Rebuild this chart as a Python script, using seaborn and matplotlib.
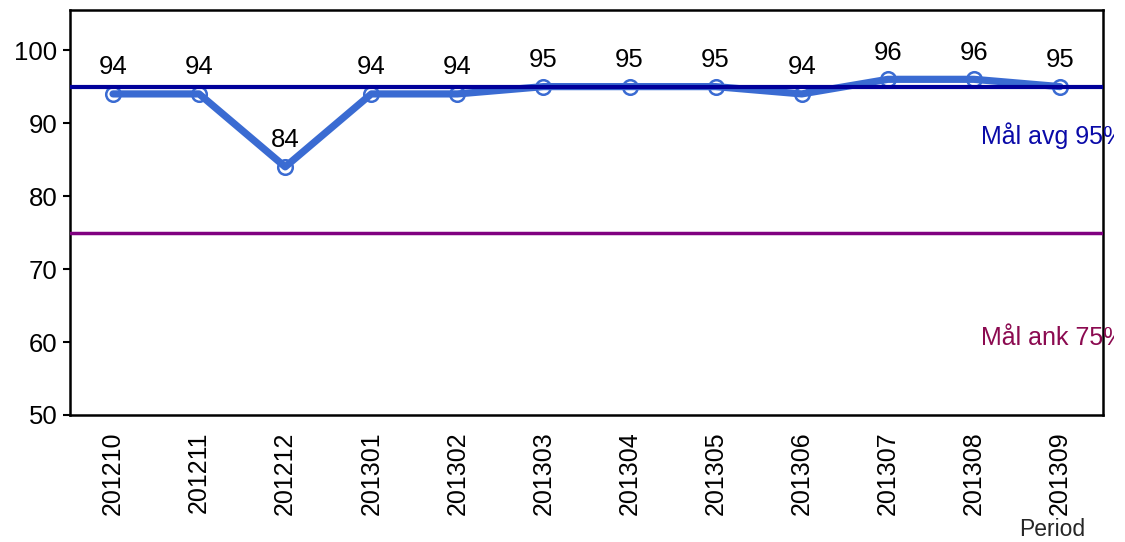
import matplotlib
matplotlib.use("Agg")
import matplotlib.pyplot as plt
from matplotlib.patches import Rectangle
import seaborn as sns
import pandas as pd

periods = ["201210", "201211", "201212", "201301", "201302", "201303",
           "201304", "201305", "201306", "201307", "201308", "201309"]
values = [94, 94, 84, 94, 94, 95, 95, 95, 94, 96, 96, 95]
goal_avg = 95
goal_ank = 75
goal_avg_label = "Mål avg 95%"
goal_ank_label = "Mål ank 75%"
x_label = "Period"
y_ticks = [50, 60, 70, 80, 90, 100]

sns.set_theme(style="white")
plt.rcParams['font.family'] = ['Liberation Sans', 'DejaVu Sans']

df = pd.DataFrame({"period": periods, "value": values})

fig = plt.figure(figsize=(11.25, 5.42), dpi=100)
ax = fig.add_axes([70/1125, 1 - 415/542, (1103-70)/1125, (415-10)/542])

line_color = "#3A6BD2"
sns.scatterplot(data=df, x="period", y="value", ax=ax, s=110, marker="o",
                facecolor="white", edgecolor=line_color, linewidth=1.8, zorder=2)
sns.lineplot(data=df, x="period", y="value", ax=ax, color=line_color,
             linewidth=5.2, zorder=3, sort=False)

ax.axhline(goal_avg, color="#00009A", linewidth=3, zorder=4)
ax.axhline(goal_ank, color="#800080", linewidth=2.5, zorder=4)

for i, v in enumerate(values):
    ax.annotate(str(v), (i, v), xytext=(0, 14), textcoords="offset points",
                ha="center", va="baseline", fontsize=18.5, color="black")

# goal labels, cut at the right like in the original export
clip = Rectangle((0, 0), 1114/1125, 1, transform=fig.transFigure,
                 facecolor="none", edgecolor="none")
t1 = ax.text(10.08, 88.3, goal_avg_label, fontsize=18, color="#0A0AA8",
             ha="left", va="center", clip_on=True)
t2 = ax.text(10.08, 60.5, goal_ank_label, fontsize=18, color="#8B0A50",
             ha="left", va="center", clip_on=True)
for t in (t1, t2):
    t.set_clip_path(clip)

ax.set_xlim(-0.5, len(periods) - 0.5)
ax.set_ylim(50, 105.5)
ax.set_yticks(y_ticks)
ax.set_xticks(range(len(periods)))
ax.set_xticklabels(periods, rotation=90)
ax.tick_params(axis="y", labelsize=18.5, length=5, width=1.5, direction="out",
               left=True, colors="black", pad=4)
ax.tick_params(axis="x", labelsize=18, length=0, pad=12, colors="black")
ax.set_xlabel("")
ax.set_ylabel("")
for s in ax.spines.values():
    s.set_color("black")
    s.set_linewidth(1.8)
    s.set_visible(True)

fig.text(1052/1125, 1 - 530/542, x_label, fontsize=16.5, ha="center", va="center")

fig.savefig("out.png", dpi=100, facecolor="white")
